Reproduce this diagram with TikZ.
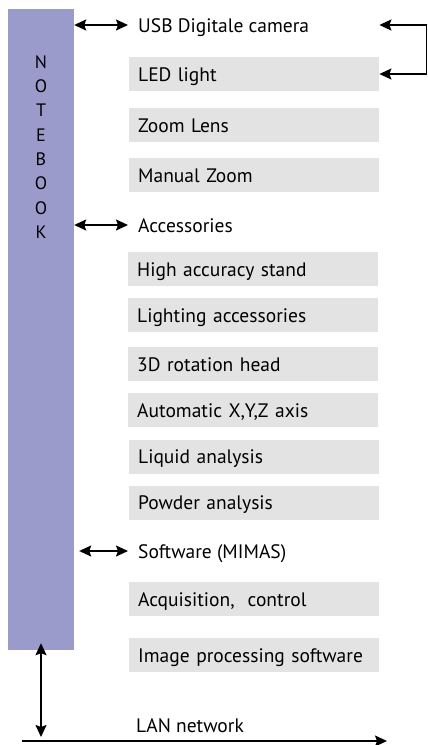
\documentclass[tikz,border=0pt]{standalone}
\usepackage{fontspec}
\setmainfont{PT Sans}
\usetikzlibrary{positioning,arrows.meta}
\definecolor{barblue}{HTML}{9B9BCB}
\definecolor{boxgray}{HTML}{E3E3E3}

\begin{document}
\begin{tikzpicture}[x=1pt,y=-1pt,>={Stealth[length=12pt,width=11pt,inset=2pt]},
  item/.style={fill=boxgray,anchor=west,minimum width=250pt,minimum height=34pt,
    text width=232pt,inner xsep=9pt,align=left,text height=16pt,text depth=2pt,
    font=\fontsize{19.5}{22}\selectfont},
  head/.style={anchor=west,inner xsep=10pt,text height=16pt,text depth=2pt,
    font=\fontsize{19.5}{22}\selectfont},
  link/.style={<->,line width=1.6pt}]
\useasboundingbox (0,0) rectangle (428,745);
\node[fill=barblue,minimum width=66pt,minimum height=641pt,inner sep=0pt] (nb) at (41,329.5) {};
\node[align=center,font=\fontsize{18}{24.3}\selectfont] (nbname) at (41,147) {N\\O\\T\\E\\B\\O\\O\\K};
\node[head] (usb) at (128,25) {USB Digitale camera};
\node[item] (led) at (129,74) {LED light};
\node[item] (zoom) at (129,125) {Zoom Lens};
\node[item] (manual) at (129,175) {Manual Zoom};
\node[head] (acc) at (128,225) {Accessories};
\node[item] (stand) at (128,269) {High accuracy stand};
\node[item] (light) at (128,315) {Lighting accessories};
\node[item] (rot) at (128,364) {3D rotation head};
\node[item] (axis) at (128,410) {Automatic X,Y,Z axis};
\node[item] (liquid) at (129,456.5) {Liquid analysis};
\node[item] (powder) at (129,502.5) {Powder analysis};
\node[head] (soft) at (128,551) {Software (MIMAS)};
\node[item] (acq) at (129,599) {Acquisition,\ \ control};
\node[item] (imgproc) at (129,655) {Image processing software};
\node[head] (lan) at (126,725) {LAN network};
\coordinate (lanl) at (22,741);
\coordinate (lanr) at (387,741);
\draw[link] (nb.east |- usb) -- (usb.west);
\draw[link] (nb.east |- acc) -- (acc.west);
\draw[link] ([xshift=5pt]nb.east |- soft) -- (soft.west);
\draw[link] (led.east |- usb) -- ++(47,0) |- (led.east);
\draw[->,line width=1.6pt] (lanl) -- (lanr);
\draw[link] ([yshift=7pt]nb.south) -- ([yshift=4pt]nb.south |- lanl);
\end{tikzpicture}
\end{document}
